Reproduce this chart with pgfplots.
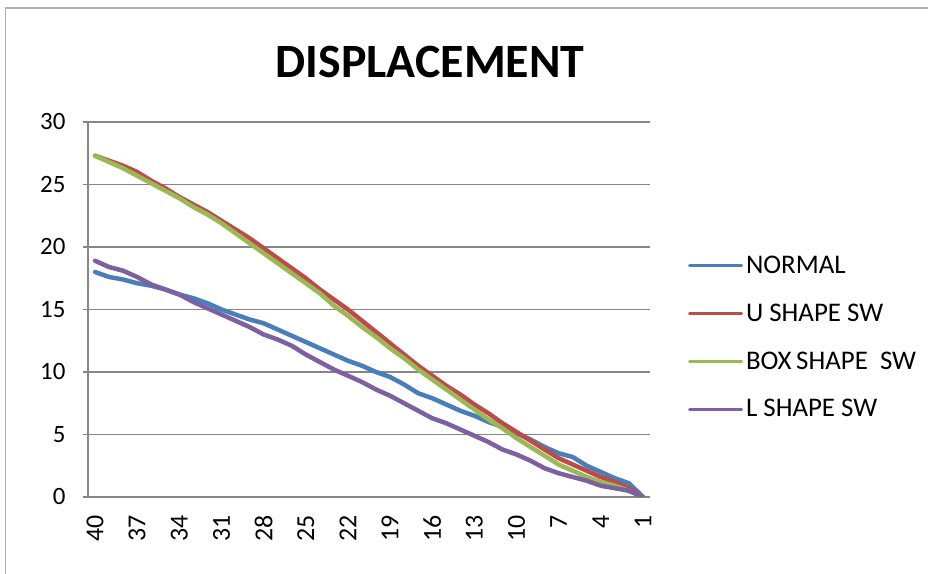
\documentclass[border=0pt]{standalone}
\usepackage{pgfplots}
\usepackage{pgfplotstable}
\pgfplotsset{compat=1.18}
\usepackage{fontspec}
\setmainfont{Carlito}

\definecolor{sNormal}{HTML}{4A7EBB}
\definecolor{sU}{HTML}{BE4B48}
\definecolor{sBox}{HTML}{98B954}
\definecolor{sL}{HTML}{7D60A0}
\definecolor{gridgray}{HTML}{868686}

% displacement per storey
\pgfplotstableread{
k  normal ushape box  lshape
40 18.0 27.3 27.3 18.9
39 17.6 26.9 26.8 18.4
38 17.4 26.5 26.3 18.1
37 17.1 26.0 25.7 17.6
36 16.9 25.3 25.1 17.0
35 16.6 24.7 24.5 16.6
34 16.2 24.0 23.9 16.2
33 15.9 23.4 23.2 15.6
32 15.5 22.8 22.6 15.1
31 15.0 22.1 21.9 14.6
30 14.6 21.4 21.1 14.1
29 14.2 20.7 20.3 13.6
28 13.9 19.9 19.5 13.0
27 13.4 19.1 18.7 12.6
26 12.9 18.3 17.9 12.1
25 12.4 17.5 17.1 11.4
24 11.9 16.6 16.3 10.8
23 11.4 15.8 15.3 10.2
22 10.9 15.0 14.5 9.7
21 10.5 14.1 13.6 9.2
20 10.0 13.2 12.8 8.6
19 9.6  12.3 11.9 8.1
18 9.0  11.4 11.1 7.5
17 8.3  10.5 10.2 6.9
16 7.9  9.7  9.4  6.3
15 7.4  8.9  8.6  5.9
14 6.9  8.2  7.8  5.4
13 6.5  7.4  7.0  4.9
12 6.0  6.7  6.2  4.4
11 5.6  5.9  5.5  3.8
10 5.1  5.2  4.7  3.4
9  4.6  4.5  4.0  2.9
8  4.0  3.8  3.3  2.3
7  3.5  3.1  2.6  1.9
6  3.2  2.6  2.1  1.6
5  2.5  2.1  1.6  1.3
4  2.0  1.6  1.2  0.9
3  1.5  1.2  0.9  0.7
2  1.1  0.7  0.5  0.5
1  0    0    0    0
}\disp

\begin{document}
\begin{tikzpicture}[x=1bp,y=1bp]
\path[use as bounding box] (0,0) rectangle (928,574);
\draw[gray!60, line width=1.2bp] (5.5,0) -- (5.5,566) -- (928,566);
\node[font=\bfseries\fontsize{48}{56}\selectfont, anchor=base] at (430,496) {DISPLACEMENT};

\begin{axis}[
    at={(88bp,77bp)}, anchor=south west,
    scale only axis, width=562bp, height=375bp,
    x dir=reverse,
    xmin=0.5, xmax=40.5,
    ymin=0, ymax=30,
    xtick={40,37,...,1},
    ytick={0,5,...,30},
    axis lines*=left,
    axis line style={gridgray, line width=1.5bp},
    ymajorgrids,
    grid style={gridgray, line width=1.5bp},
    xtick style={draw=none},
    ytick style={gridgray, line width=1.5bp},
    tick align=outside,
    major tick length=5bp,
    tick label style={font=\fontsize{25}{30}\selectfont},
    /pgf/number format/assume math mode=true,
    xticklabel style={rotate=90, anchor=east, xshift=-10bp, font=\fontsize{26}{30}\selectfont},
    yticklabel style={xshift=-14bp},
    legend style={at={(1.062,0.652)}, anchor=north west, draw=none, fill=none,
        font=\fontsize{27}{32}\selectfont, row sep=27bp,
        nodes={inner ysep=1bp, inner xsep=3bp}},
    legend cell align=left,
    legend image code/.code={\draw[#1, line width=3bp] (0bp,0bp) -- (52bp,0bp);},
    every axis plot/.append style={line width=4.5bp, line join=round, line cap=round},
]
\addplot[sNormal] table[x=k, y=normal] {\disp};
\addplot[sU] table[x=k, y=ushape] {\disp};
\addplot[sBox] table[x=k, y=box] {\disp};
\addplot[sL] table[x=k, y=lshape] {\disp};
\legend{NORMAL, U SHAPE SW, BOX\hspace{-1.5bp} SHAPE\ \ SW, L SHAPE SW}
\end{axis}
\end{tikzpicture}
\end{document}
